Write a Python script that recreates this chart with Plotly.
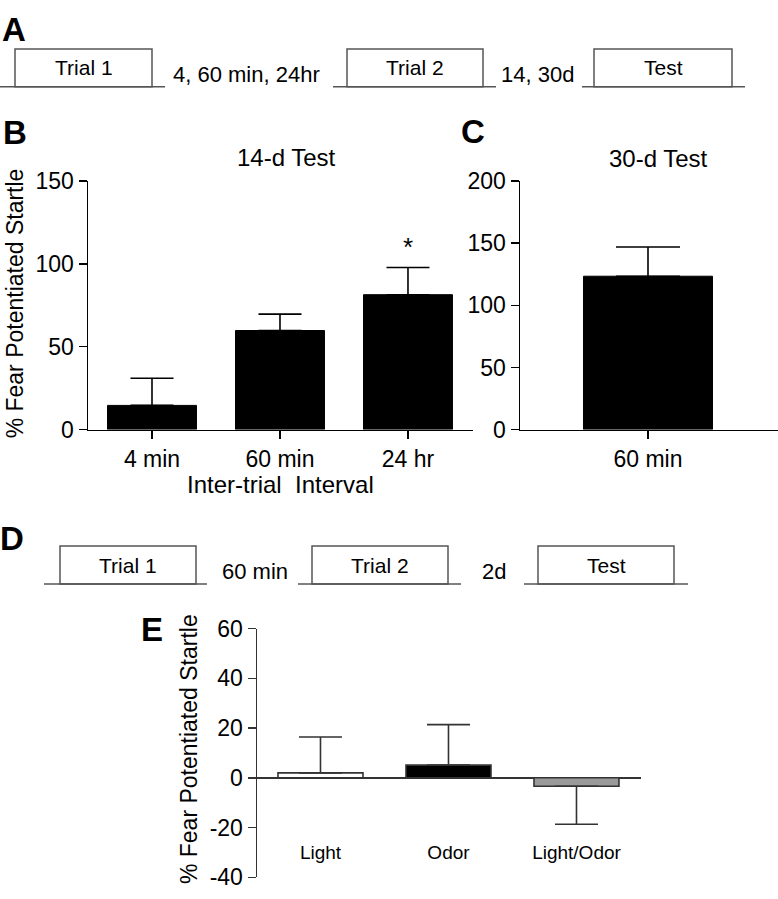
import plotly.graph_objects as go

W, H = 778, 899

# ---------------- data ----------------
b_categories = ["4 min", "60 min", "24 hr"]
b_means = [14.6, 59.8, 81.4]
b_sem = [16.4, 9.9, 16.4]

c_categories = ["60 min"]
c_means = [123.4]
c_sem = [23.5]

e_categories = ["Light", "Odor", "Light/Odor"]
e_means = [2.0, 5.1, -3.4]
e_sem_up = [14.4, 16.3, 0.0]
e_sem_down = [0.0, 0.0, 15.3]
e_colors = ["white", "black", "#9a9a9a"]

e_tickvals = [-40, -20, 0, 20, 40, 60]
e_ticktext = ["-40", "-20", "0", "20", "40", "60"]

a_box_labels = ["Trial 1", "Trial 2", "Test"]
a_gap_labels = ["4, 60 min, 24hr", "14, 30d"]
d_box_labels = ["Trial 1", "Trial 2", "Test"]
d_gap_labels = ["60 min", "2d"]

ytitle = "% Fear Potentiated Startle"
FONT = "Arial, Liberation Sans, sans-serif"


def fx(px):
    return px / W


def fy(py):
    return 1 - py / H


fig = go.Figure()

# Panel B
fig.add_trace(go.Bar(
    x=b_categories, y=b_means, width=0.695,
    marker=dict(color="black", line=dict(color="black", width=1)),
    error_y=dict(type="data", symmetric=False, array=b_sem,
                 arrayminus=[0] * len(b_sem), color="black", thickness=1.6, width=21.5),
    xaxis="x", yaxis="y", showlegend=False))

# Panel C
fig.add_trace(go.Bar(
    x=c_categories, y=c_means, width=0.7,
    marker=dict(color="black", line=dict(color="black", width=1)),
    error_y=dict(type="data", symmetric=False, array=c_sem,
                 arrayminus=[0] * len(c_sem), color="black", thickness=1.6, width=32),
    xaxis="x2", yaxis="y2", showlegend=False))

# Panel E
fig.add_trace(go.Bar(
    x=e_categories, y=e_means, width=0.664,
    marker=dict(color=e_colors, line=dict(color="#333", width=1.6)),
    error_y=dict(type="data", symmetric=False, array=e_sem_up,
                 arrayminus=e_sem_down, color="#333", thickness=1.6, width=21.5),
    xaxis="x3", yaxis="y3", showlegend=False))

tickfont = dict(family=FONT, size=23, color="black")
axis_common = dict(showgrid=False, zeroline=False, showline=True, linewidth=1.5,
                   linecolor="black", ticks="outside", ticklen=8, tickwidth=1.5,
                   tickcolor="black", tickfont=tickfont, fixedrange=True)

fig.update_layout(
    width=W, height=H,
    margin=dict(l=0, r=0, t=0, b=0),
    paper_bgcolor="white", plot_bgcolor="rgba(0,0,0,0)",
    font=dict(family=FONT, color="black"),
    bargap=0,
    xaxis=dict(domain=[fx(88), fx(473)], range=[-0.5, 2.508], anchor="y", **axis_common),
    yaxis=dict(domain=[fy(429), fy(173)], range=[0, 150], dtick=50, anchor="x", **axis_common),
    xaxis2=dict(domain=[fx(520), 1.0], range=[-0.6945, 0.7054], anchor="y2", **axis_common),
    yaxis2=dict(domain=[fy(429), fy(173)], range=[0, 200], dtick=50, anchor="x2", **axis_common),
    xaxis3=dict(domain=[fx(257), fx(641)], range=[-0.496, 2.504], anchor="free",
                position=fy(851), showgrid=False, zeroline=False, showline=False,
                ticks="", tickfont=dict(family=FONT, size=19, color="black"), fixedrange=True),
    yaxis3=dict(domain=[fy(890), fy(634)], range=[-40, 60], tickvals=e_tickvals,
                ticktext=e_ticktext, anchor="x3",
                showgrid=False, zeroline=True, zerolinecolor="#333", zerolinewidth=1.6,
                showline=True, linewidth=1.5, linecolor="#333", ticks="outside", ticklen=8,
                tickwidth=1.5, tickcolor="#333", tickfont=dict(family=FONT, size=23, color="black"),
                fixedrange=True),
)

shapes = []
annotations = []


def text(px, py, s, size, bold=False, angle=0, xanchor="center"):
    annotations.append(dict(
        x=fx(px), y=fy(py), xref="paper", yref="paper", text=("<b>%s</b>" % s) if bold else s,
        showarrow=False, xanchor=xanchor, yanchor="middle", textangle=angle,
        font=dict(family=FONT, size=size, color="black")))


def hline(x0, x1, y, color="#555", w=1.5):
    shapes.append(dict(type="line", xref="paper", yref="paper", x0=fx(x0), x1=fx(x1),
                       y0=fy(y), y1=fy(y), line=dict(color=color, width=w)))


def box(x0, x1, ytop, ybot, color="#555", w=1.5):
    shapes.append(dict(type="rect", xref="paper", yref="paper", x0=fx(x0), x1=fx(x1),
                       y0=fy(ybot), y1=fy(ytop), line=dict(color=color, width=w),
                       fillcolor="rgba(0,0,0,0)"))


# Timeline A
a_base = 76
for x0, x1 in [(0, 165), (333, 496), (582, 745)]:
    hline(x0, x1, a_base)
a_boxes = [(15, 152), (347, 483), (594, 732)]
for (x0, x1), lab in zip(a_boxes, a_box_labels):
    box(x0, x1, 37, a_base)
    text((x0 + x1) / 2, 56, lab, 21)
for xc, lab in zip([247, 537], a_gap_labels):
    text(xc, 63, lab, 22)

# Timeline D
d_base = 588
for x0, x1 in [(44, 207), (298, 461), (524, 688)]:
    hline(x0, x1, d_base)
d_boxes = [(60, 196), (312, 448), (538, 674)]
for (x0, x1), lab in zip(d_boxes, d_box_labels):
    box(x0, x1, 549, d_base)
    text((x0 + x1) / 2, 569, lab, 21)
for xc, lab in zip([255, 494], d_gap_labels):
    text(xc, 575, lab, 22)

# Panel letters
for px, py, s in [(14, 17, "A"), (15, 123, "B"), (473, 122, "C"), (12, 541, "D"), (152, 635, "E")]:
    text(px, py, s, 33, bold=True)

# Titles
text(286, 149, "14-d Test", 24)
text(658, 150, "30-d Test", 24)
text(280, 486, "Inter-trial&nbsp; Interval", 24)
text(15, 299, ytitle, 23, angle=-90)
text(189, 758, ytitle, 23, angle=-90)

# significance marker on 24 hr bar
annotations.append(dict(x=b_categories[2], y=b_means[2] + b_sem[2], xref="x", yref="y",
                        text="*", showarrow=False, yanchor="bottom", yshift=4,
                        font=dict(family=FONT, size=26, color="black")))

fig.update_layout(shapes=shapes, annotations=annotations)

fig.write_html("out.html",
               config={"displayModeBar": False, "staticPlot": True},
               post_script="document.body.style.margin='0';document.body.style.padding='0';")
